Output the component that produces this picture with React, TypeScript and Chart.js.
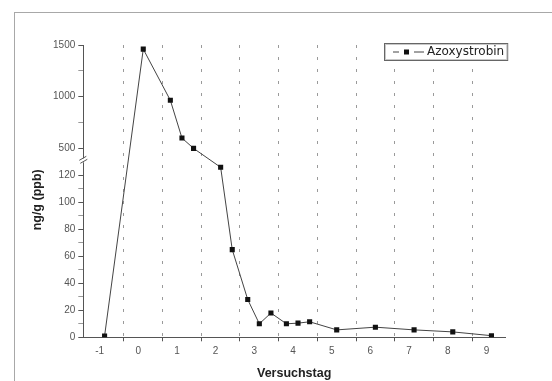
import React, { useEffect, useRef } from 'react';
import { Chart, registerables, LinearScale } from 'chart.js';

// ---------- data ----------
const days = [-1, 0, 0.7, 1, 1.3, 2, 2.3, 2.7, 3, 3.3, 3.7, 4, 4.3, 5, 6, 7, 8, 9];
const azoxystrobin = [1, 1460, 965, 600, 500, 126, 65, 28, 10, 18, 10, 10.5, 11.5, 5.5, 7.5, 5.5, 4, 1.2];
const xTickValues = [-1, 0, 1, 2, 3, 4, 5, 6, 7, 8, 9];
const yMajorTicks = [0, 20, 40, 60, 80, 100, 120, 500, 1000, 1500];
const yMinorTicks = [10, 30, 50, 70, 90, 110, 750, 1250];
const seriesName = 'Azoxystrobin';
const xTitle = 'Versuchstag';
const yTitle = 'ng/g (ppb)';

// ---------- broken axis configuration ----------
const LOW_MAX = 130;
const HIGH_MIN = 400;
const LOW_FRAC = 0.6;
const HIGH_FRAC = 0.389;

class BrokenLinearScale extends LinearScale {
  static id = 'brokenLinear';
  static defaults = LinearScale.defaults;
  buildTicks() {
    return [...yMajorTicks, ...yMinorTicks].sort((a, b) => a - b).map((v) => ({ value: v }));
  }
  getPixelForValue(value: number) {
    const min = (this as any).min;
    const max = (this as any).max;
    let f: number;
    if (value <= LOW_MAX) f = ((value - min) / (LOW_MAX - min)) * LOW_FRAC;
    else if (value >= HIGH_MIN) f = 1 - ((max - value) / (max - HIGH_MIN)) * HIGH_FRAC;
    else f = LOW_FRAC + ((value - LOW_MAX) / (HIGH_MIN - LOW_MAX)) * (1 - LOW_FRAC - HIGH_FRAC);
    const s = this as any;
    return s.bottom - f * (s.bottom - s.top);
  }
  getValueForPixel(pixel: number) {
    const s = this as any;
    const f = (s.bottom - pixel) / (s.bottom - s.top);
    if (f <= LOW_FRAC) return s.min + (f / LOW_FRAC) * (LOW_MAX - s.min);
    if (f >= 1 - HIGH_FRAC) return s.max - ((1 - f) / HIGH_FRAC) * (s.max - HIGH_MIN);
    return LOW_MAX + ((f - LOW_FRAC) / (1 - LOW_FRAC - HIGH_FRAC)) * (HIGH_MIN - LOW_MAX);
  }
}

Chart.register(...registerables, BrokenLinearScale as any);

const tickFont = { family: "'Liberation Sans', Arial, sans-serif", size: 10 };
const titleFont = { family: "'Liberation Sans', Arial, sans-serif", size: 12.5, weight: 'bold' as const };

const framePlugin = {
  id: 'frame',
  beforeDraw(chart: any) {
    const { ctx, width, height } = chart;
    ctx.save();
    ctx.fillStyle = '#ffffff';
    ctx.fillRect(0, 0, width, height);
    ctx.strokeStyle = '#a8a8a8';
    ctx.lineWidth = 1;
    ctx.strokeRect(14.5, 12.5, width + 20, height + 20);
    ctx.restore();
  },
};

const breakPlugin = {
  id: 'axisBreak',
  afterDraw(chart: any) {
    const { ctx, chartArea } = chart;
    const y = chart.scales.y;
    const yb = (y.getPixelForValue(LOW_MAX) + y.getPixelForValue(HIGH_MIN)) / 2;
    const x0 = chartArea.left;
    ctx.save();
    ctx.fillStyle = '#ffffff';
    ctx.fillRect(x0 - 2, yb - 2, 4, 4);
    ctx.strokeStyle = '#555';
    ctx.lineWidth = 1;
    ctx.beginPath();
    ctx.moveTo(x0 - 4, yb);
    ctx.lineTo(x0 + 3, yb - 4);
    ctx.moveTo(x0 - 3, yb + 3);
    ctx.lineTo(x0 + 4, yb - 1);
    ctx.stroke();
    ctx.restore();
  },
};

const legendPlugin = {
  id: 'boxLegend',
  afterDraw(chart: any) {
    const { ctx, chartArea } = chart;
    ctx.save();
    ctx.font = "12px 'DejaVu Sans', sans-serif";
    const tw = ctx.measureText(seriesName).width;
    const boxW = 43 + tw + 3;
    const boxH = 17;
    const right = chartArea.right + 2;
    const x = Math.round(right - boxW);
    const y = Math.round(chartArea.top - 2);
    ctx.fillStyle = '#ffffff';
    ctx.fillRect(x, y, boxW, boxH);
    ctx.strokeStyle = '#666';
    ctx.lineWidth = 1;
    ctx.strokeRect(x + 0.5, y + 0.5, boxW, boxH);
    ctx.strokeStyle = '#c8c8c8';
    ctx.strokeRect(x + 1.5, y + 1.5, boxW - 2, boxH - 2);
    const cy = y + boxH / 2 + 0.5;
    ctx.strokeStyle = '#444';
    ctx.beginPath();
    ctx.moveTo(x + 9, cy);
    ctx.lineTo(x + 15, cy);
    ctx.moveTo(x + 30, cy);
    ctx.lineTo(x + 40, cy);
    ctx.stroke();
    ctx.fillStyle = '#111';
    ctx.fillRect(x + 20, cy - 2.5, 5, 5);
    ctx.fillStyle = '#222';
    ctx.textBaseline = 'middle';
    ctx.textAlign = 'left';
    ctx.fillText(seriesName, x + 43, cy);
    ctx.restore();
  },
};

export default function App() {
  const canvasRef = useRef<HTMLCanvasElement | null>(null);

  useEffect(() => {
    document.body.style.margin = '0';
    const canvas = canvasRef.current;
    if (!canvas) return;
    const chart = new Chart(canvas, {
      type: 'line',
      data: {
        datasets: [
          {
            label: seriesName,
            data: days.map((d, i) => ({ x: d, y: azoxystrobin[i] })),
            borderColor: '#444',
            borderWidth: 1,
            pointStyle: 'rect',
            pointRadius: 3.6,
            pointBackgroundColor: '#111',
            pointBorderColor: '#111',
            pointBorderWidth: 0,
            tension: 0,
            fill: false,
          },
        ],
      },
      options: {
        animation: false,
        responsive: false,
        devicePixelRatio: 1,
        layout: { padding: { left: 0, top: 45, right: 47, bottom: 0 } },
        plugins: {
          legend: { display: false },
          tooltip: { enabled: false },
        },
        scales: {
          x: {
            type: 'linear',
            min: -1.55,
            max: 9.35,
            afterBuildTicks: (s: any) => {
              s.ticks = xTickValues.map((v) => ({ value: v }));
            },
            afterFit: (s: any) => {
              s.height = 43.7;
            },
            grid: {
              offset: true,
              drawOnChartArea: true,
              drawTicks: true,
              tickLength: 4,
              lineWidth: 1,
              color: (c: any) => (c.index === 0 ? 'rgba(0,0,0,0)' : '#9a9a9a'),
              tickColor: (c: any) => (c.index === 0 ? 'rgba(0,0,0,0)' : '#555'),
            },
            border: { display: true, color: '#555', width: 1, dash: [3, 9] },
            ticks: {
              autoSkip: false,
              maxRotation: 0,
              padding: 4,
              labelOffset: -5,
              color: '#555',
              font: tickFont,
              callback: (v: any) => String(v),
            },
            title: {
              display: true,
              text: xTitle,
              color: '#222',
              font: titleFont,
              padding: { top: 0, bottom: 0 },
            },
          },
          y: {
            type: 'brokenLinear' as any,
            position: 'left',
            min: 0,
            max: 1500,
            afterFit: (s: any) => {
              s.width = 83.3;
            },
            grid: {
              drawOnChartArea: false,
              drawTicks: true,
              tickLength: 5,
              lineWidth: 1,
              tickColor: (c: any) => (c.tick && yMajorTicks.includes(c.tick.value) ? '#555' : '#999'),
            },
            border: { display: true, color: '#555', width: 1 },
            ticks: {
              autoSkip: false,
              padding: 3,
              color: '#555',
              font: tickFont,
              callback: (v: any) => (yMajorTicks.includes(Number(v)) ? String(v) : ''),
            },
            title: {
              display: true,
              text: yTitle + '     ',
              color: '#222',
              font: titleFont,
              padding: { top: 30, bottom: 0 },
            },
          },
        },
      } as any,
      plugins: [framePlugin, breakPlugin, legendPlugin],
    });
    return () => chart.destroy();
  }, []);

  return (
    <div style={{ width: 552, height: 381, position: 'relative' }}>
      <canvas ref={canvasRef} width={552} height={381} style={{ display: 'block' }} />
    </div>
  );
}
